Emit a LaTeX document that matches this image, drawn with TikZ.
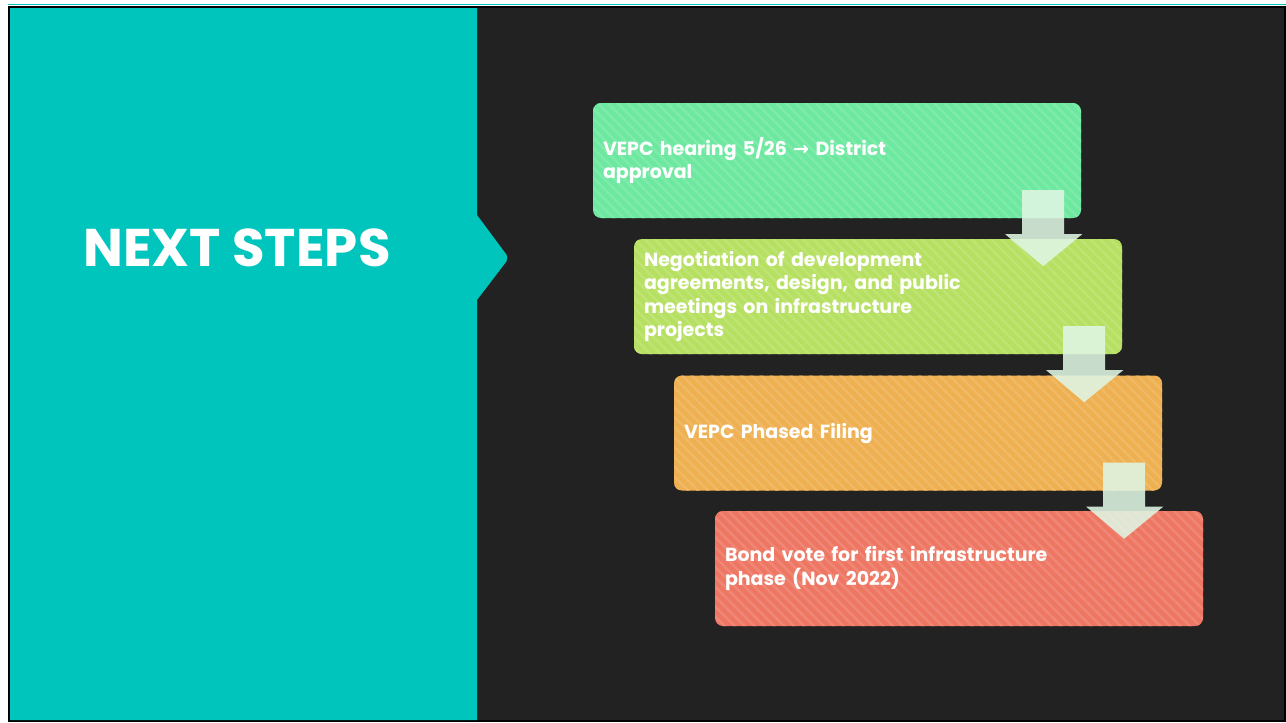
\documentclass[tikz,border=0pt]{standalone}
\usepackage{fontspec}
\setmainfont{Poppins}
\newfontfamily\arrowfont{DejaVu Sans}
\usetikzlibrary{calc,patterns.meta}
\definecolor{slideteal}{RGB}{0,197,188}
\definecolor{slidedark}{RGB}{34,34,34}
\definecolor{stepgreen}{RGB}{109,232,160}
\definecolor{steplime}{RGB}{182,224,97}
\definecolor{steporange}{RGB}{238,176,80}
\definecolor{stepred}{RGB}{238,119,99}
\definecolor{arrowmint}{RGB}{224,246,228}
\tikzset{
  stepbox/.style={rectangle,rounded corners=8pt,minimum width=488pt,minimum height=115pt,
    text width=468pt,inner xsep=10pt,align=left,text=white,
    font=\bfseries\fontsize{19}{23.5}\selectfont,
    fill=#1,postaction={pattern={Lines[angle=-45,distance=7pt,line width=2.5pt]},pattern color=#1!88!white}},
  downarrow/.style={fill=arrowmint,fill opacity=0.88}
}

\begin{document}
\begin{tikzpicture}[x=1pt,y=-1pt]
\useasboundingbox (0,0) rectangle (1286,723);
% slide background and frame
\fill[white] (0,0) rectangle (1286,723);
\draw[slideteal,line width=1.5pt] (8,4.5) -- (1286,4.5);
\draw[black,line width=2pt,fill=slidedark] (9,7) rectangle (1285,721);
\fill[slideteal] (10,8) -- (477,8) -- (477,215) -- (506,254) [rounded corners=3pt] -- (508,258) [sharp corners] -- (506,262) -- (477,300) -- (477,720) -- (10,720) -- cycle;
\node (title) at (237,248) {\color{white}\bfseries\fontsize{53}{56}\selectfont NEXT STEPS};
%
\node (s1) [stepbox=stepgreen] at (837,160.5) {VEPC hearing 5/26 {\arrowfont →} District\\approval};
\node (s2) [stepbox=steplime] at (878,296.5) {Negotiation of development\\agreements, design, and public\\meetings on infrastructure\\projects};
\node (s3) [stepbox=steporange] at (918,433) {VEPC Phased Filing};
\node (s4) [stepbox=stepred] at (959,568.5) {Bond vote for first infrastructure\\phase (Nov 2022)};
%
\foreach \a/\b in {s1/s2,s2/s3,s3/s4}
  \fill[downarrow] ($(\a.south east)+(-59,-28)$) -- ++(42,0) -- ++(0,44) -- ++(18,0)
    -- ($(\a.south east)+(-38,48)$) -- ($(\a.south east)+(-76,16)$) -- ++(17,0) -- cycle;
\end{tikzpicture}
\end{document}
